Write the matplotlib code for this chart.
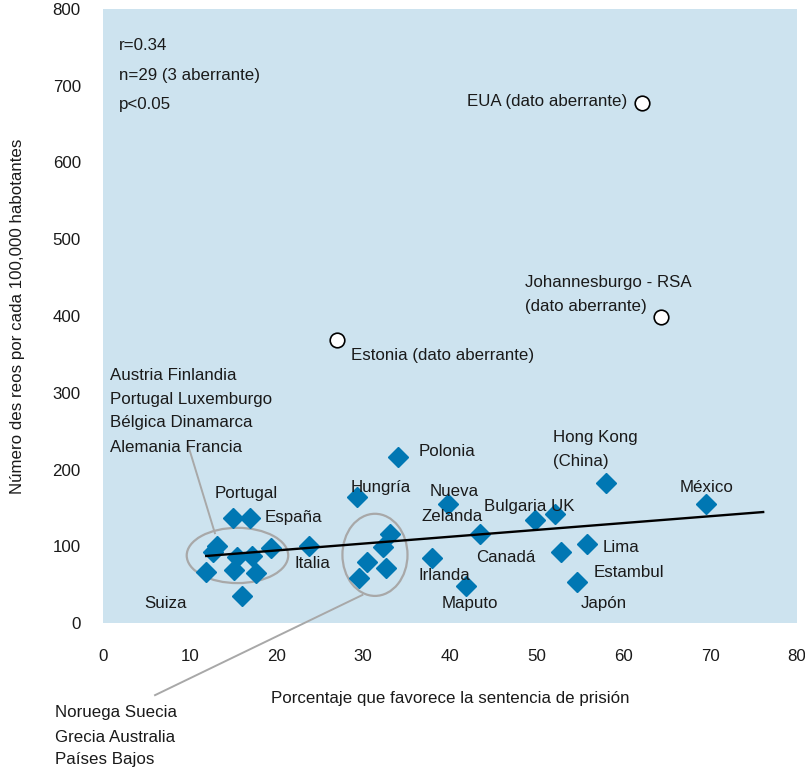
import matplotlib
matplotlib.use('Agg')
import matplotlib.pyplot as plt
from matplotlib.patches import Ellipse
import numpy as np

plt.rcParams['font.family'] = ['Liberation Sans', 'DejaVu Sans']

# porcentaje que favorece la prision / reos por 100,000 habitantes
x_pts = [15.0, 16.9, 13.1, 12.7, 15.4, 17.2, 19.4, 11.9, 15.1, 17.6, 16.0,
         23.7, 29.3, 33.1, 32.3, 30.4, 32.6, 29.5, 34.0, 39.8, 43.5, 37.9,
         41.8, 49.8, 52.1, 52.8, 55.8, 54.6, 58.0, 69.5]
y_pts = [137, 137, 100, 92.5, 86, 87, 98, 66, 69, 65, 35,
         100, 164, 116, 99, 79.5, 72, 59, 216, 155, 116, 85,
         48, 134, 142, 92.5, 103, 53, 182, 155]

# datos aberrantes: EUA, Johannesburgo, Estonia
x_out = [62.1, 64.3, 27.0]
y_out = [677, 399, 369]

# linea de tendencia
trend_x = [11.9, 76.1]
slope, intercept = 0.892, 76.7

xticks = [0, 10, 20, 30, 40, 50, 60, 70, 80]
yticks = [0, 100, 200, 300, 400, 500, 600, 700, 800]

labels = [
    ('r=0.34', 1.8, 752), ('n=29 (3 aberrante)', 1.8, 714), ('p<0.05', 1.8, 676),
    ('EUA (dato aberrante)', 42.0, 679),
    ('Johannesburgo - RSA', 48.6, 443), ('(dato aberrante)', 48.6, 413),
    ('Estonia (dato aberrante)', 28.6, 348),
    ('Austria Finlandia', 0.8, 322), ('Portugal Luxemburgo', 0.8, 291),
    ('Bélgica Dinamarca', 0.8, 261), ('Alemania Francia', 0.8, 229),
    ('Portugal', 12.9, 169), ('España', 18.6, 137), ('Italia', 22.1, 77),
    ('Suiza', 4.8, 25), ('Hungría', 28.5, 176), ('Polonia', 36.4, 224),
    ('Nueva', 37.6, 171), ('Zelanda', 36.7, 139), ('Bulgaria UK', 43.9, 152),
    ('Canadá', 43.0, 85), ('Irlanda', 36.4, 62.5), ('Maputo', 39.0, 25),
    ('Hong Kong', 51.9, 242), ('(China)', 51.9, 211), ('México', 66.5, 177),
    ('Lima', 57.6, 98), ('Estambul', 56.5, 66), ('Japón', 55.1, 25),
    ('Noruega Suecia', -5.5, -117), ('Grecia Australia', -5.5, -149),
    ('Países Bajos', -5.5, -178.5),
]

FS = 12.2
BLUE = '#0077b3'
GREY = '#a8a8a8'

fig = plt.figure(figsize=(8.05, 7.69), dpi=100)
ax = fig.add_axes([103/805, 1-623/769, 694/805, 614/769])
ax.set_facecolor('#cde3ef')
ax.set_xlim(0, 80)
ax.set_ylim(0, 800)
for s in ax.spines.values():
    s.set_visible(False)
ax.set_xticks(xticks)
ax.set_yticks(yticks)
ax.tick_params(length=0, labelsize=FS, labelcolor='#1a1a1a')
ax.tick_params(axis='x', pad=19)
ax.tick_params(axis='y', pad=16)

# grupos (elipses) y lineas de referencia
ax.add_patch(Ellipse((15.5, 88), 11.7, 72, fill=False, ec=GREY, lw=1.6, zorder=2))
ax.add_patch(Ellipse((31.35, 88.8), 7.5, 107, fill=False, ec=GREY, lw=1.6, zorder=2))
ax.plot([9.8, 12.9], [232, 117], color=GREY, lw=1.4, zorder=2)
ax.plot([29.9, 6.0], [36.5, -94], color=GREY, lw=1.4, zorder=2, clip_on=False)

ax.plot(x_pts, y_pts, 'D', ms=9.7, color=BLUE, mec=BLUE, ls='none', zorder=3)
tx = np.array(trend_x)
ax.plot(tx, intercept + slope*tx, color='black', lw=1.7, zorder=4)
ax.plot(x_out, y_out, 'o', ms=10.5, mfc='white', mec='black', mew=1.2, zorder=4)

for t, lx, ly in labels:
    ax.text(lx, ly, t, fontsize=FS, ha='left', va='center', color='#1a1a1a', zorder=5)

fig.text(18/805, 1-316/769, 'Número des reos por cada 100,000 habotantes',
         rotation=90, ha='center', va='center', fontsize=FS, color='#1a1a1a')
fig.text(450/805, 1-698/769, 'Porcentaje que favorece la sentencia de prisión',
         ha='center', va='center', fontsize=FS, color='#1a1a1a')

fig.savefig('out.png', dpi=100)
